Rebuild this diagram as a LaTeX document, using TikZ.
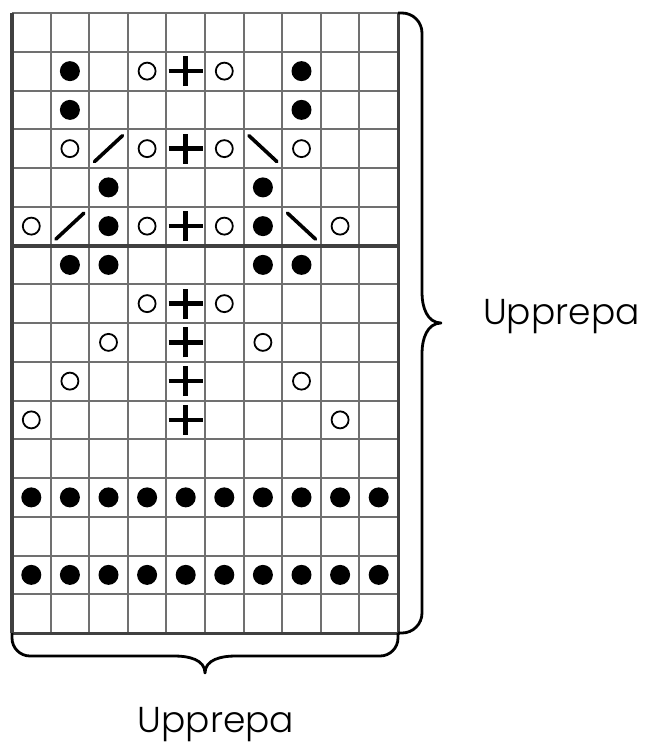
\documentclass[tikz,border=0pt]{standalone}
\usepackage{fontspec}
\setmainfont{Poppins}[UprightFont=* Light]
\usetikzlibrary{positioning, calc, decorations.pathreplacing}
\definecolor{clGrid}{RGB}{112,112,112}
\definecolor{clEdge}{RGB}{ 64, 64, 64}
\definecolor{clInk} {RGB}{  0,  0,  0}
\tikzset{
  gridln/.style={
    draw=clGrid, line width=2pt
  },
  edgeln/.style={
    draw=clEdge, line width=4pt
  },
  purl/.style={
    fill=clInk
  },
  yo/.style={
    draw=clInk, line width=1.8pt
  },
  plusst/.style={
    draw=clInk, line width=4.5pt
  },
  dec/.style={
    draw=clInk, line width=3.6pt, line cap=round
  },
  brc/.style={
    draw=clInk, line width=2.8pt, line join=round
  },
  lbl/.style={
    font=\fontsize{36}{40}\selectfont, text=clInk, inner sep=0pt
  }
}

\begin{document}
\begin{tikzpicture}[x=38.6pt, y=-38.75pt]
    \useasboundingbox (-12pt,13pt) rectangle (637pt,-735pt);

    % ============================================================
    % CHART GRID
    % ============================================================
    \coordinate (gridNW) at (0,0);
    \coordinate (gridNE) at (10,0);
    \coordinate (gridSW) at (0,16);
    \coordinate (gridSE) at (10,16);
    \coordinate (tipR) at (10,8);
    \coordinate (tipB) at (5,16);

    \foreach \c in {1,...,9}
      \draw [gridln] (\c,0) -- (\c,16);
    \foreach \r in {1,...,15}
      \draw [gridln] (0,\r) -- (10,\r);
    \draw [gridln] (gridNW) -- (gridNE);

    % Heavy edges and repeat line
    \draw [edgeln] (0,6) -- (10,6);
    \draw [edgeln, line width=3pt] (gridNE) -- (gridSE) -- (gridSW);
    \draw [edgeln] (gridNW) -- (gridSW);

    % ============================================================
    % STITCH SYMBOLS
    % ============================================================
    % Purl dots
    \foreach \c/\r in {2/2, 8/2, 2/3, 8/3, 3/5, 7/5, 3/6, 7/6, 2/7, 3/7, 7/7, 8/7}
      \fill [purl] (\c-0.5,\r-0.5) circle [radius=10pt];
    \foreach \r in {13,15}
      \foreach \c in {1,...,10}
        \fill [purl] (\c-0.5,\r-0.5) circle [radius=10pt];

    % Yarn overs
    \foreach \c/\r in {4/2, 6/2, 2/4, 4/4, 6/4, 8/4, 1/6, 4/6, 6/6, 9/6,
                       4/8, 6/8, 3/9, 7/9, 2/10, 8/10, 1/11, 9/11}
      \draw [yo] (\c-0.5,\r-0.5) circle [radius=8.5pt];

    % Centre plus column
    \foreach \r in {2,4,6,8,9,10,11}
      \draw [plusst] (4.5,\r-0.5) +(-17pt,0) -- +(17pt,0)
                                   +(0,-15pt) -- +(0,15pt);

    % Decreases
    \foreach \c/\r in {3/4, 2/6}
      \draw [dec] (\c-0.5,\r-0.5) +(-14pt,-13pt) -- +(14pt,13pt);
    \foreach \c/\r in {7/4, 8/6}
      \draw [dec] (\c-0.5,\r-0.5) +(-14pt,13pt) -- +(14pt,-13pt);

    % ============================================================
    % REPEAT BRACES
    % ============================================================
    % Right brace (rows)
    \draw [brc] (gridNE) -- ++(4pt,0) arc [start angle=90, end angle=0, radius=20pt]
      -- ($(tipR)+(24pt,30pt)$) to[out=-90, in=180] ($(tipR)+(43pt,0)$)
      to[out=180, in=90] ($(tipR)+(24pt,-30pt)$)
      -- ($(gridSE)+(24pt,20pt)$) arc [start angle=0, end angle=-90, radius=20pt]
      -- (gridSE);

    % Bottom brace (stitches)
    \draw [brc] (gridSE) -- ++(0,-5pt) arc [start angle=0, end angle=-90, radius=18pt]
      -- ($(tipB)+(30pt,-23pt)$) to[out=180, in=90] ($(tipB)+(0,-40pt)$)
      to[out=90, in=0] ($(tipB)+(-30pt,-23pt)$)
      -- ($(gridSW)+(18pt,-23pt)$) arc [start angle=-90, end angle=-180, radius=18pt]
      -- (gridSW);

    \node (lblRight) [lbl, anchor=base west] at ([xshift=85pt, yshift=-1pt]tipR) {Upprepa};
    \node (lblBottom) [lbl, anchor=base] at ([xshift=11pt, yshift=-99pt]tipB) {Upprepa};

\end{tikzpicture}
\end{document}
